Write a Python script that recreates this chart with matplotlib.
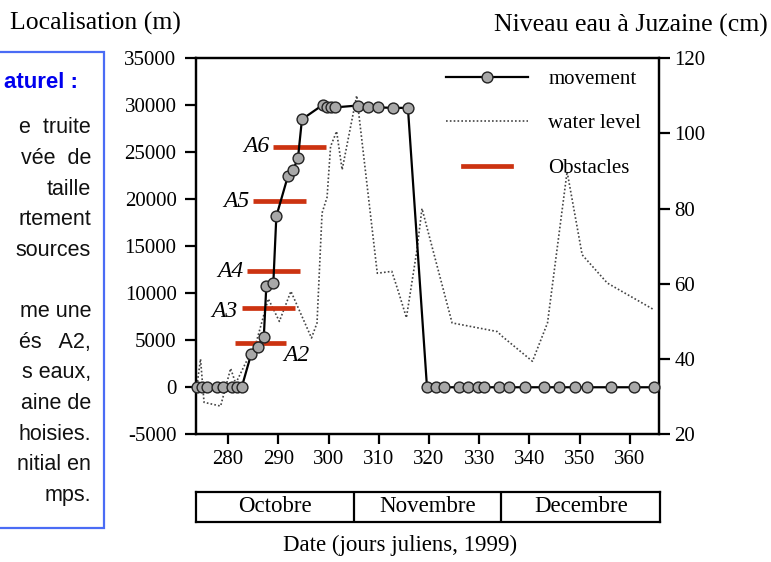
import matplotlib
matplotlib.use("Agg")
import matplotlib.pyplot as plt
from matplotlib.patches import Rectangle
from matplotlib.legend_handler import HandlerLine2D

plt.rcParams['axes.unicode_minus'] = False
plt.rcParams['font.family'] = ['Liberation Serif', 'DejaVu Serif']

# movement of the fish (julian day, localisation in m)
move_day = [273.8, 274.8, 275.8, 277.8, 278.9, 280.8, 281.7, 282.7,
            284.6, 285.9, 287.1, 287.6, 289.0, 289.6, 291.9, 292.9, 293.9, 294.7,
            298.8, 299.6, 300.5, 301.3, 305.8, 307.8, 309.8, 312.8, 315.8,
            319.6, 321.4, 323.0, 325.9, 327.8, 329.8, 330.9, 334.0, 335.9,
            339.1, 342.9, 345.9, 349.0, 351.5, 356.2, 360.8, 364.9]
move_loc = [0, 0, 0, 0, 0, 0, 0, 0,
            3560, 4330, 5330, 10720, 11080, 18180, 22440, 23080, 24320, 28480,
            30000, 29750, 29750, 29750, 29950, 29750, 29750, 29700, 29700,
            0, 0, 0, 0, 0, 0, 0, 0, 0,
            0, 0, 0, 0, 0, 0, 0, 0]

# water level at Juzaine (cm)
water_day = [273.8, 274.5, 275.2, 278.5, 280.5, 281.5, 283.5, 285.5, 288.0, 290.2,
             292.5, 296.6, 297.7, 298.7, 299.7, 300.4, 301.6, 302.7, 305.6, 309.7,
             312.6, 314.0, 315.5, 317.6, 318.6, 324.6, 333.6, 334.6, 340.6, 343.6,
             347.5, 350.5, 355.5, 364.8]
water_lvl = [33, 40, 28.5, 27.5, 37.5, 33.5, 39, 44, 56, 50,
             58, 45.6, 49.6, 78.8, 83, 96.5, 100.5, 90.3, 110, 62.8,
             63.3, 57.5, 51, 69, 80, 49.6, 47.3, 46, 39.4, 49.6,
             89.8, 67.7, 60.2, 53.1]

# obstacles
obst_names = ['A2', 'A3', 'A4', 'A5', 'A6']
obst_start = [281.3, 282.8, 283.8, 285.0, 289.0]
obst_end = [291.6, 293.4, 294.4, 295.6, 299.4]
obst_loc = [4690, 8450, 12320, 19780, 25560]

months = ['Octobre', 'Novembre', 'Decembre']
month_edges = [273.6, 305.0, 334.3, 365.8]

left_ticks = [-5000, 0, 5000, 10000, 15000, 20000, 25000, 30000, 35000]
right_ticks = [20, 40, 60, 80, 100, 120]
day_ticks = [280, 290, 300, 310, 320, 330, 340, 350, 360]

box_title = 'aturel :'
box_lines = ['e  truite', 'vée  de', 'taille', 'rtement', 'sources', '',
             'me une', 'és   A2,', 's eaux,', 'aine de', 'hoisies.', 'nitial en', 'mps.']


class ShortLine(HandlerLine2D):
    # legend handle drawn shorter and centred
    def create_artists(self, legend, orig_handle, xdescent, ydescent, width,
                       height, fontsize, trans):
        cut = 0.2 * width
        return super().create_artists(legend, orig_handle, xdescent - cut, ydescent,
                                      width - 2 * cut, height, fontsize, trans)


W, H = 771, 562
fig = plt.figure(figsize=(W / 100, H / 100), dpi=100)

def fx(px):
    return px / W

def fy(py):
    return 1 - py / H

ax = fig.add_axes([fx(196), fy(434.3), fx(659 - 196), (434.3 - 58) / H])
ax2 = ax.twinx()

ax2.plot(water_day, water_lvl, linestyle=(0, (1, 1.3)), color='#444444', lw=1.2,
         label='water level')
ax2.set_ylim(20, 120)
ax2.set_yticks(right_ticks)

ax.hlines(obst_loc, obst_start, obst_end, color='#cc3311', lw=3.4, zorder=2)
for name, s, e, y in zip(obst_names, obst_start, obst_end, obst_loc):
    if name == 'A2':
        ax.annotate(name, (e, y), xytext=(-2, -9), textcoords='offset points',
                    ha='left', va='center', fontsize=17, style='italic')
    else:
        dy = -3 if name == 'A3' else 0
        ax.annotate(name, (s, y), xytext=(-3, dy), textcoords='offset points',
                    ha='right', va='center', fontsize=17, style='italic')

ax.plot(move_day, move_loc, '-o', color='black', lw=1.6, ms=7.8,
        mfc='#a8a8a8', mec='#222222', mew=1.0, clip_on=False, zorder=3,
        label='movement')
obst_handle, = ax.plot([], [], color='#cc3311', lw=3.4, label='Obstacles')

ax.set_zorder(ax2.get_zorder() + 1)
ax.patch.set_visible(False)

ax.set_xlim(month_edges[0], month_edges[-1])
ax.set_ylim(-5000, 35000)
ax.set_yticks(left_ticks)
ax.set_xticks(day_ticks)

for a in (ax, ax2):
    for sp in a.spines.values():
        sp.set_linewidth(1.6)
ax.tick_params(axis='y', direction='out', length=8, width=1.6, pad=6, labelsize=15)
ax.tick_params(axis='x', direction='out', length=7, width=1.6, pad=4, labelsize=15)
ax2.tick_params(axis='y', direction='out', length=8, width=1.6, pad=3, labelsize=15)

h1, l1 = ax.get_legend_handles_labels()
h2, l2 = ax2.get_legend_handles_labels()
handles = [h1[0], h2[0], h1[1]]
labels = [l1[0], l2[0], l1[1]]
ax.legend(handles, labels, loc='upper left', bbox_to_anchor=(0.5, 1.02),
          frameon=False, fontsize=15, handlelength=3.9, handletextpad=1.0,
          labelspacing=1.2, handler_map={obst_handle: ShortLine()})

# month table under the axis
axm = fig.add_axes([fx(196), fy(521.7), fx(660 - 196), 30 / H])
axm.set_xlim(month_edges[0], month_edges[-1])
axm.set_ylim(0, 1)
axm.set_xticks([])
axm.set_yticks([])
for sp in axm.spines.values():
    sp.set_linewidth(1.6)
for edge in month_edges[1:-1]:
    axm.axvline(edge, color='black', lw=1.6)
for i, m in enumerate(months):
    axm.text((month_edges[i] + month_edges[i + 1]) / 2, 0.5, m, ha='center',
             va='center', fontsize=16.5)

fig.text(fx(400), fy(545), 'Date (jours juliens, 1999)', ha='center', va='center',
         fontsize=16.5)
fig.text(fx(10), fy(23), 'Localisation (m)', ha='left', va='center', fontsize=18.5)
fig.text(fx(768), fy(25), 'Niveau eau à Juzaine (cm)', ha='right', va='center',
         fontsize=18.5)

# cropped text box on the left
fig.patches.append(Rectangle((fx(-10), fy(528)), fx(114), (528 - 52) / H,
                             transform=fig.transFigure, fill=False,
                             edgecolor='#4a6cf5', lw=1.6))
fig.text(fx(78), fy(82), box_title, ha='right', va='center', fontsize=16,
         fontweight='bold', color='#0000ee', family=['Liberation Sans'])
for i, line in enumerate(box_lines):
    fig.text(fx(91), fy(128 + i * 30.6), line, ha='right', va='center',
             fontsize=15.5, color='#111111', family=['Liberation Sans'])

fig.savefig('out.png', dpi=100)
